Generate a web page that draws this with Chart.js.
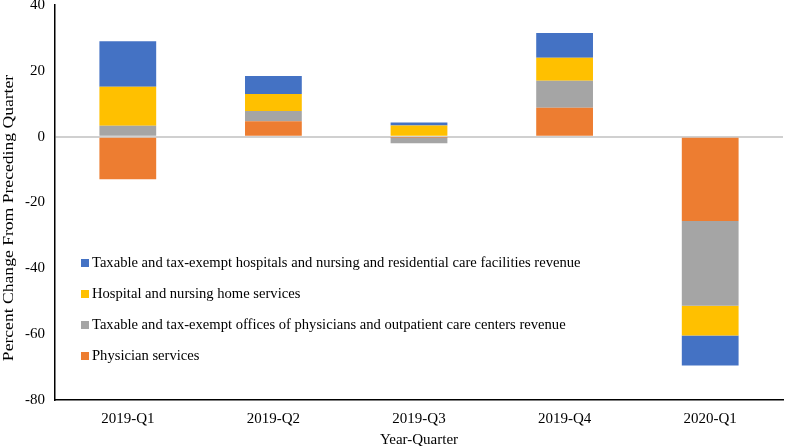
<!DOCTYPE html>
<html>
<head>
<meta charset="utf-8">
<script src="https://cdn.jsdelivr.net/npm/chart.js@4/dist/chart.umd.min.js"></script>
<style>
  html, body { margin: 0; padding: 0; background: #fff; }
  #wrap { width: 785px; height: 446px; }
</style>
</head>
<body>
<div id="wrap"><canvas id="chart"></canvas></div>
<script>
// ----------------------
// DATA
// ----------------------
const quarters = ["2019-Q1", "2019-Q2", "2019-Q3", "2019-Q4", "2020-Q1"];
const physicianServices = [-12.9, 4.7, -0.2, 8.8, -25.6];
const officesRevenue = [3.3, 3.1, -1.8, 8.2, -25.8];
const hospitalServices = [11.9, 5.2, 3.4, 7.0, -9.0];
const hospitalsRevenue = [13.8, 5.4, 0.9, 7.5, -9.1];

const seriesNames = [
  "Physician services",
  "Taxable and tax-exempt offices of physicians and outpatient care centers revenue",
  "Hospital and nursing home services",
  "Taxable and tax-exempt hospitals and nursing and residential care facilities revenue",
];
const seriesColors = ["#ED7D31", "#A5A5A5", "#FFC000", "#4472C4"];
const yTicks = [-80, -60, -40, -20, 0, 20, 40];
const yTitle = "Percent Change From Preceding Quarter";

const FONT = "'Liberation Serif', 'Times New Roman', serif";

// ----------------------
// LEGEND INSIDE PLOT + Y TITLE (drawn by hand for placement)
// ----------------------
const insideLegend = {
  id: "insideLegend",
  afterDraw(chart) {
    const ctx = chart.ctx;
    const sets = chart.data.datasets.slice().reverse();
    ctx.save();
    ctx.font = "14.6px " + FONT;
    ctx.textBaseline = "middle";
    sets.forEach((ds, i) => {
      const y = 263 + i * 31;
      ctx.fillStyle = ds.backgroundColor;
      ctx.fillRect(81, y - 4, 8, 8);
      ctx.fillStyle = "#000";
      ctx.fillText(ds.label, 92, y);
    });
    ctx.restore();

    // y axis title, slightly stretched like the reference
    ctx.save();
    ctx.translate(9, 218);
    ctx.rotate(-Math.PI / 2);
    ctx.scale(1, 0.85);
    ctx.font = "17.6px " + FONT;
    ctx.fillStyle = "#000";
    ctx.textAlign = "center";
    ctx.textBaseline = "middle";
    ctx.fillText(yTitle, 0, 0);
    ctx.restore();
  },
};

const datasets = [physicianServices, officesRevenue, hospitalServices, hospitalsRevenue].map((vals, i) => ({
  label: seriesNames[i],
  data: vals,
  backgroundColor: seriesColors[i],
  borderWidth: 0,
  categoryPercentage: 1,
  barPercentage: 0.39,
}));

new Chart(document.getElementById("chart"), {
  type: "bar",
  data: { labels: quarters, datasets },
  options: {
    responsive: true,
    maintainAspectRatio: false,
    animation: false,
    layout: { padding: { top: 5, right: 2, left: 0, bottom: 0 } },
    plugins: { legend: { display: false }, tooltip: { enabled: false } },
    scales: {
      x: {
        stacked: true,
        grid: { display: false, drawTicks: false },
        border: { display: true, color: "#000", width: 1.5 },
        ticks: { color: "#000", font: { family: FONT, size: 15 }, padding: 10 },
        title: { display: true, text: "Year-Quarter", color: "#000", font: { family: FONT, size: 15 }, padding: { top: 3, bottom: -3 } },
        afterFit: (s) => { s.height = 46; s.paddingLeft = 0; s.paddingRight = 0; },
      },
      y: {
        stacked: true,
        min: -80,
        max: 40,
        afterBuildTicks: (s) => { s.ticks = yTicks.map((v) => ({ value: v })); },
        grid: {
          drawTicks: false,
          color: (c) => (c.tick && c.tick.value === 0 ? "#D0D0D0" : "rgba(0,0,0,0)"),
          lineWidth: 2,
        },
        border: { display: true, color: "#000", width: 1.5 },
        ticks: { color: "#000", font: { family: FONT, size: 15 }, padding: 10 },
        title: { display: false },
        afterFit: (s) => { s.width = 55; s.paddingTop = 0; s.paddingBottom = 0; },
      },
    },
  },
  plugins: [insideLegend],
});
</script>
</body>
</html>
